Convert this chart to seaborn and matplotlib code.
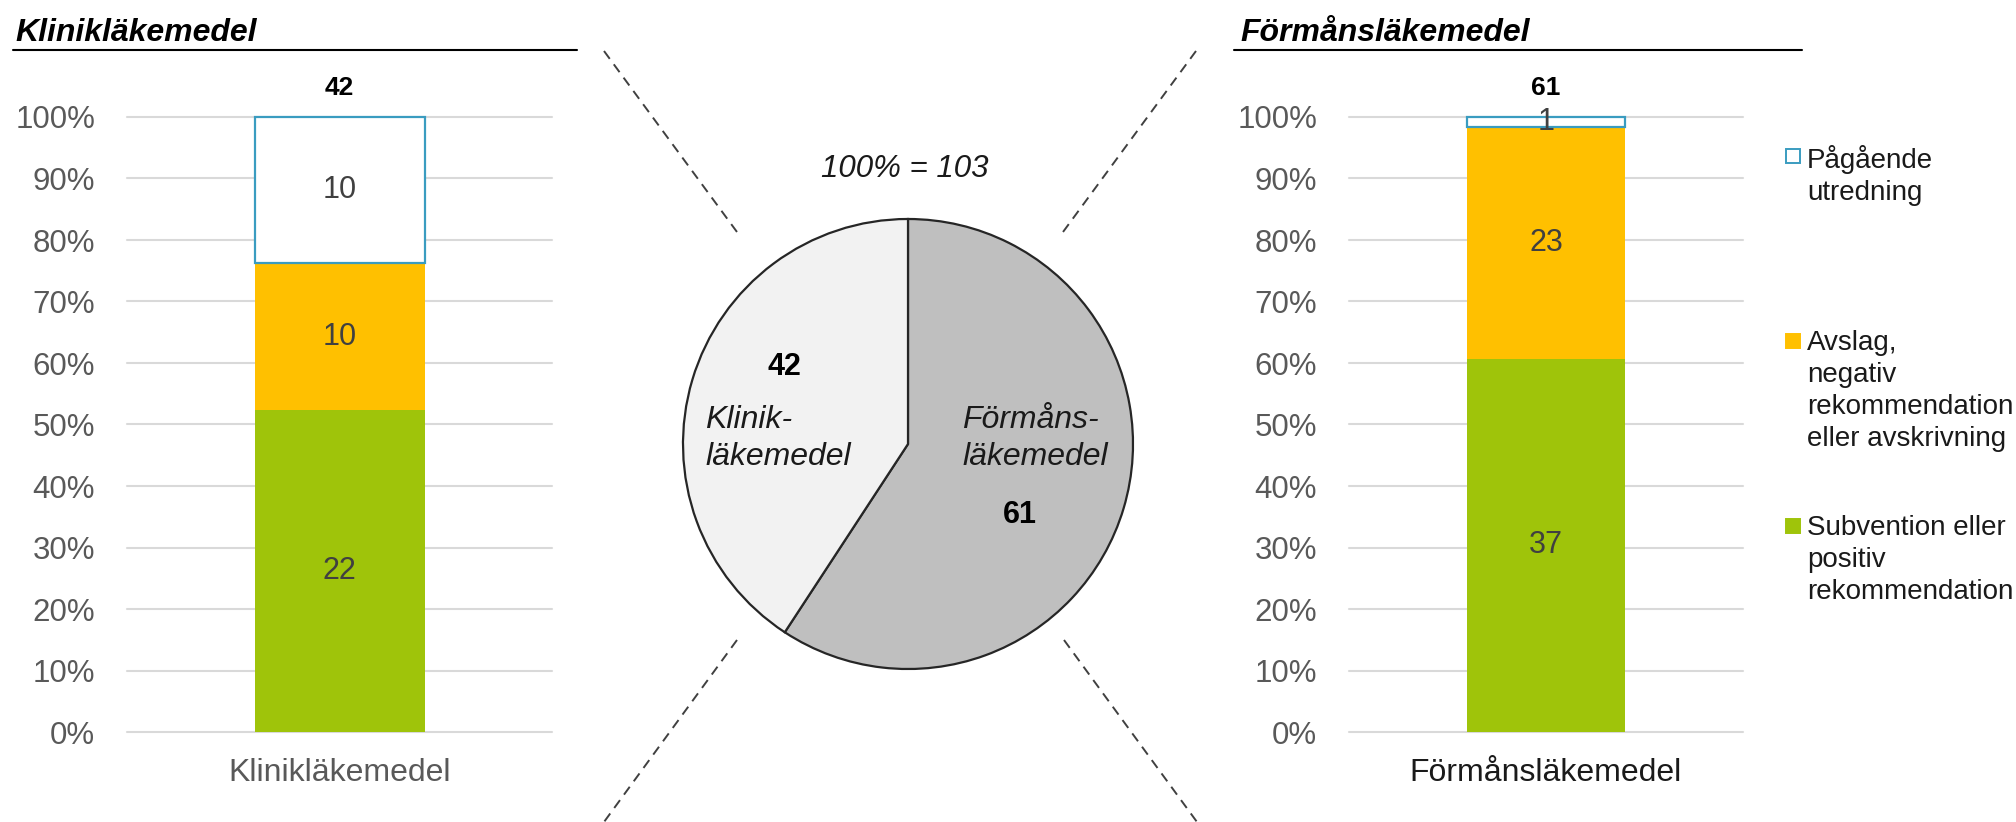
import numpy as np
import pandas as pd
import matplotlib
matplotlib.use("Agg")
import matplotlib.pyplot as plt
from matplotlib.lines import Line2D
from matplotlib.patches import Rectangle
import seaborn as sns

# ---- data -----------------------------------------------------------------
outcome_labels = [
    "Subvention eller\npositiv\nrekommendation",
    "Avslag,\nnegativ\nrekommendation\neller avskrivning",
    "Pågående\nutredning",
]
klinik_counts = [22, 10, 10]   # subvention, avslag, pågående
forman_counts = [37, 23, 1]

pie_names = ["Förmåns-\nläkemedel", "Klinik-\nläkemedel"]
pie_values = [61, 42]

klinik_title = "Klinikläkemedel"
forman_title = "Förmånsläkemedel"
ytick_values = list(range(0, 101, 10))

# ---- style ----------------------------------------------------------------
outcome_colors = ["#9FC40A", "#FFC000", "#FFFFFF"]
pending_edge = "#3A9CC0"
pie_colors = ["#BFBFBF", "#F2F2F2"]

W, H = 2016, 822
sns.set_theme(style="white")
plt.rcParams["font.family"] = ["Liberation Sans", "DejaVu Sans"]

fig = plt.figure(figsize=(W / 100, H / 100), dpi=100)


def fx(px):
    return px / W


def fy(py):
    return 1 - py / H


def stacked_bar(ax, category, counts, xlabel_color):
    total = sum(counts)
    bottom = 0.0
    for n, col in zip(counts, outcome_colors):
        frac = n / total
        df = pd.DataFrame({"kategori": [category], "andel": [frac]})
        if col == "#FFFFFF":
            extra = dict(edgecolor=pending_edge, linewidth=1.6)
        else:
            extra = dict(linewidth=0)
        sns.barplot(data=df, x="kategori", y="andel", color=col, width=0.4,
                    errorbar=None, saturation=1, bottom=bottom, ax=ax,
                    clip_on=False, zorder=2, **extra)
        ax.text(0, bottom + frac / 2, str(n), ha="center", va="center",
                fontsize=22, color="#404040", zorder=3)
        bottom += frac
    ax.annotate(str(total), xy=(0, 1), xytext=(0, 21),
                textcoords="offset points", ha="center", va="center",
                fontsize=19, fontweight="bold", color="black")

    ax.set_xlim(-0.5, 0.5)
    ax.set_ylim(0, 1)
    ax.set_yticks([v / 100 for v in ytick_values])
    ax.set_yticklabels([f"{v}%" for v in ytick_values])
    ax.grid(axis="y", color="#D9D9D9", linewidth=1.5)
    ax.grid(axis="x", visible=False)
    ax.set_axisbelow(True)
    for gl in ax.get_ygridlines():
        gl.set_clip_on(False)
    sns.despine(ax=ax, left=True, bottom=True)
    ax.tick_params(axis="y", length=0, pad=23, labelsize=22.5,
                   labelcolor="#595959")
    ax.tick_params(axis="x", length=0, pad=19, labelsize=23,
                   labelcolor=xlabel_color)
    ax.set_xlabel("")
    ax.set_ylabel("")


# ---- left: Klinikläkemedel --------------------------------------------------
ax_l = fig.add_axes([fx(127), fy(732), fx(552) - fx(127), (732 - 117) / H])
stacked_bar(ax_l, klinik_title, klinik_counts, "#595959")

# ---- right: Förmånsläkemedel ------------------------------------------------
ax_r = fig.add_axes([fx(1349), fy(732), fx(1743) - fx(1349), (732 - 117) / H])
stacked_bar(ax_r, forman_title, forman_counts, "#1A1A1A")

# ---- section titles with underline ------------------------------------------
for x0, x1, ux0, title in [(15, 577, 13, klinik_title),
                           (1240, 1802, 1234, forman_title)]:
    fig.text(fx(x0), fy(41), title, fontsize=23, fontweight="bold",
             fontstyle="italic", color="black", va="baseline", ha="left")
    fig.add_artist(Line2D([fx(ux0), fx(x1)], [fy(50), fy(50)],
                          color="black", linewidth=1.5))

# ---- centre pie ------------------------------------------------------------
cx, cy, r = 908, 444, 225
ax_p = fig.add_axes([fx(cx - r), fy(cy + r), 2 * r / W, 2 * r / H])
ax_p.pie(pie_values, colors=pie_colors, startangle=90, counterclock=False,
         radius=1, wedgeprops=dict(edgecolor="#262626", linewidth=1.6))
ax_p.set_xlim(-1.0, 1.0)
ax_p.set_ylim(-1.0, 1.0)
ax_p.set_aspect("auto")
ax_p.axis("off")

ax_p.text(-0.547, 0.342, str(pie_values[1]), ha="center", va="center",
          fontsize=22, fontweight="bold", color="black")
ax_p.text(-0.90, 0.024, pie_names[1], ha="left", va="center",
          fontsize=23, fontstyle="italic", color="#1A1A1A", linespacing=1.3)
ax_p.text(0.24, 0.024, pie_names[0], ha="left", va="center",
          fontsize=23, fontstyle="italic", color="#1A1A1A", linespacing=1.3)
ax_p.text(0.498, -0.316, str(pie_values[0]), ha="center", va="center",
          fontsize=22, fontweight="bold", color="black")

fig.text(fx(905), fy(169), f"100% = {sum(pie_values)}", ha="center",
         va="center", fontsize=22.5, fontstyle="italic", color="#1A1A1A")

# ---- dashed connector lines -------------------------------------------------
for (x0, y0, x1, y1) in [(604, 51, 737, 232), (1196, 51, 1063, 232),
                         (737, 640, 604, 822), (1064, 640, 1197, 822)]:
    fig.add_artist(Line2D([fx(x0), fx(x1)], [fy(y0), fy(y1)],
                          color="#404040", linewidth=1.4,
                          linestyle=(0, (5, 3.5))))

# ---- legend ------------------------------------------------------------------
legend_order = [2, 1, 0]
first_baseline = 165
pitch = 185
for k, idx in enumerate(legend_order):
    base = first_baseline + k * pitch
    col = outcome_colors[idx]
    ec = pending_edge if col == "#FFFFFF" else col
    fig.add_artist(Rectangle((fx(1786), fy(base - 2)), 14 / W, 14 / H,
                             transform=fig.transFigure, facecolor=col,
                             edgecolor=ec, linewidth=1.4))
    fig.text(fx(1807), fy(base - 20.5), outcome_labels[idx], ha="left",
             va="top", fontsize=20, color="#1A1A1A", linespacing=1.3)

fig.savefig("out.png", dpi=100, facecolor="white")
